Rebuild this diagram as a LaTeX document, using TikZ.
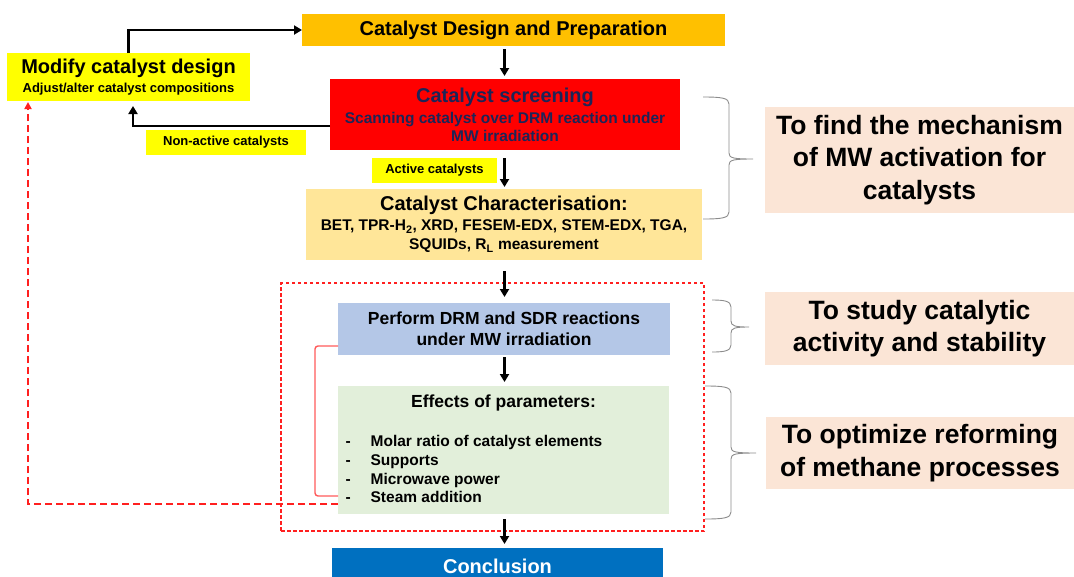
\documentclass[tikz,border=0pt]{standalone}
\usepackage{fontspec}
\setmainfont{Liberation Sans}
\usetikzlibrary{arrows.meta,calc}
\definecolor{cDesign}{HTML}{FFC000}
\definecolor{cYellow}{HTML}{FFFF00}
\definecolor{cScreen}{HTML}{FF0000}
\definecolor{cScreenTxt}{HTML}{1C2558}
\definecolor{cChar}{HTML}{FFE699}
\definecolor{cPerform}{HTML}{B4C7E7}
\definecolor{cEffects}{HTML}{E2EFDA}
\definecolor{cConcl}{HTML}{0070C0}
\definecolor{cGoal}{HTML}{FBE5D6}
\definecolor{cRed}{HTML}{FF2020}
\definecolor{cBracket}{HTML}{FF5A5A}
\definecolor{cBrace}{HTML}{8C8C8C}
\newcommand{\mybrace}[6]{%
  \draw[bracestyle] (#1,#2) .. controls (#4-7,#2) and (#4,#2+1) .. (#4,#2+7)
    -- (#4,#6-6) .. controls (#4,#6-1) and (#4+4,#6) .. (#5,#6)
    .. controls (#4+4,#6) and (#4,#6+1) .. (#4,#6+6)
    -- (#4,#3-7) .. controls (#4,#3-1) and (#4-7,#3) .. (#1,#3);}
\begin{document}
\begin{tikzpicture}[x=1pt,y=-1pt,
  box/.style={inner sep=0pt, outer sep=0pt, align=center},
  arr/.style={line width=2.4pt, -{Triangle[length=8pt,width=9pt]}},
  bracestyle/.style={draw=cBrace, line width=0.9pt},
  goal/.style={box, fill=cGoal, font=\bfseries\fontsize{26.5}{32.5}\selectfont},
  tag/.style={box, fill=cYellow, font=\bfseries\fontsize{13}{16}\selectfont},
]
\useasboundingbox (0,0) rectangle (1074,576);
\coordinate (ax) at (504.5,0);

% dashed frame
\node[draw=cRed, line width=1.1pt, dash pattern=on 3.5pt off 2.5pt, inner sep=0pt,
  minimum width=423pt, minimum height=248pt] (frame) at (492.5,407) {};

% boxes
\node[box, fill=cDesign, minimum width=423pt, minimum height=32pt,
  font=\bfseries\fontsize{20}{24}\selectfont] (design) at (513.5,30)
  {Catalyst Design and Preparation};

\node[box, fill=cYellow, minimum width=243pt, minimum height=48pt,
  font=\bfseries\fontsize{13}{19}\selectfont] (modify) at (128.5,77)
  {\fontsize{20}{19}\selectfont Modify catalyst design\\ Adjust/alter catalyst compositions};

\node[box, fill=cScreen, text=cScreenTxt, minimum width=350pt, minimum height=71pt,
  font=\bfseries\fontsize{15.5}{18}\selectfont] (screening) at (505,114.5)
  {\fontsize{20}{18}\selectfont Catalyst screening\\[3pt]
   Scanning catalyst over DRM reaction under\\ MW irradiation};

\node[tag, minimum width=160pt, minimum height=25pt] (nonactive) at (226,142.5)
  {Non-active catalysts};
\node[tag, minimum width=125pt, minimum height=25pt] (active) at (434.5,170.5)
  {Active catalysts};

\node[box, fill=cChar, minimum width=396pt, minimum height=71pt,
  font=\bfseries\fontsize{15.5}{19}\selectfont] (charac) at (504,224.5)
  {\fontsize{20}{19}\selectfont Catalyst Characterisation:\\[1pt]
   BET, TPR-H\textsubscript{2}, XRD, FESEM-EDX, STEM-EDX, TGA,\\
   SQUIDs, R\textsubscript{L} measurement};

\node[box, fill=cPerform, minimum width=332pt, minimum height=52pt,
  font=\bfseries\fontsize{17.5}{21}\selectfont] (perform) at (504,329)
  {Perform DRM and SDR reactions\\ under MW irradiation};

\node[box, fill=cEffects, minimum width=331pt, minimum height=128pt] (effects) at (503.5,450) {};
\node[box, font=\bfseries\fontsize{17.5}{21}\selectfont] (efftitle) at (503.5,402.5)
  {Effects of parameters:};
\node[box, anchor=west, align=left, font=\bfseries\fontsize{15.5}{18.7}\selectfont] (efflist) at (345.5,471)
  {\begin{tabular}{@{}l@{\hspace{20pt}}l@{}}
   - & Molar ratio of catalyst elements\\
   - & Supports\\
   - & Microwave power\\
   - & Steam addition
   \end{tabular}};

\node[box, fill=cConcl, text=white, minimum width=331pt, minimum height=36pt,
  font=\bfseries\fontsize{20}{24}\selectfont] (concl) at (497.5,566) {Conclusion};

% goal boxes
\node[goal, minimum width=309pt, minimum height=106pt] (goal1) at (919.5,160)
  {To find the mechanism\\ of MW activation for\\ catalysts};
\node[goal, minimum width=309pt, minimum height=73pt] (goal2) at (919.5,328.5)
  {To study catalytic\\ activity and stability};
\node[goal, minimum width=308pt, minimum height=72pt] (goal3) at (920,453)
  {To optimize reforming\\ of methane processes};

% braces
\mybrace{703}{97}{219}{729}{753}{159}
\mybrace{712}{300}{352}{731}{749}{327}
\mybrace{705}{386}{519}{731}{756}{453}

% main arrows
\draw[arr, shorten <=3pt, shorten >=3pt] (design.south -| ax) -- (screening.north -| ax);
\draw[arr, shorten <=8pt, shorten >=2pt] (screening.south -| ax) -- (charac.north -| ax);
\draw[arr, shorten <=11pt, shorten >=6pt] (charac.south -| ax) -- (perform.north -| ax);
\draw[arr, shorten <=2pt, shorten >=4pt] (perform.south -| ax) -- (effects.north -| ax);
\draw[arr, shorten <=5pt, shorten >=4pt] (effects.south -| ax) -- (concl.north -| ax);

% feedback arrows
\draw[arr] (modify.north) |- (design.west);
\coordinate (naY) at (0,126);
\coordinate (naX) at (133,0);
\draw[arr, shorten >=5pt] (screening.west |- naY) -| (modify.south -| naX);

% red bracket
\coordinate (brX) at (315,0);
\coordinate (brT) at (0,346);
\coordinate (brB) at (0,496);
\draw[cBracket, line width=1.4pt, rounded corners=3pt]
  (perform.west |- brT) -- (brX |- brT) -- (brX |- brB) -- (effects.west |- brB);

% red dashed feedback
\coordinate (fb) at (28,504);
\draw[cRed, line width=2pt, dash pattern=on 7pt off 4pt,
  -{Triangle[length=7pt,width=7pt]}, shorten >=1pt]
  (effects.west |- fb) -- (fb) -- (fb |- modify.south);
\end{tikzpicture}
\end{document}
